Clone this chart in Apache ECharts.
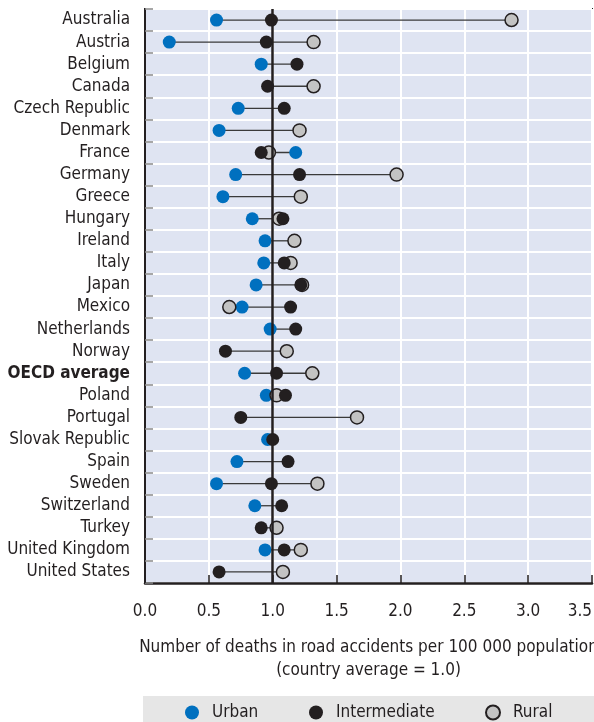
<!DOCTYPE html>
<html>
<head>
<meta charset="utf-8">
<script src="https://cdn.jsdelivr.net/npm/echarts@6/dist/echarts.min.js"></script>
<style>
html,body{margin:0;padding:0;background:#fff;}
#c{width:594px;height:722px;}
</style>
</head>
<body>
<div id="c"></div>
<script>
const countries = ["Australia","Austria","Belgium","Canada","Czech Republic","Denmark","France","Germany","Greece","Hungary","Ireland","Italy","Japan","Mexico","Netherlands","Norway","OECD average","Poland","Portugal","Slovak Republic","Spain","Sweden","Switzerland","Turkey","United Kingdom","United States"];
const urban =        [0.56,0.19,0.91,null,0.73,0.58,1.18,0.71,0.61,0.84,0.94,0.93,0.87,0.76,0.98,null,0.78,0.95,null,0.96,0.72,0.56,0.86,null,0.94,null];
const intermediate = [0.99,0.95,1.19,0.96,1.09,null,0.91,1.21,null,1.08,null,1.09,1.22,1.14,1.18,0.63,1.03,1.10,0.75,1.00,1.12,0.99,1.07,0.91,1.09,0.58];
const rural =        [2.87,1.32,null,1.32,null,1.21,0.97,1.97,1.22,1.05,1.17,1.14,1.23,0.66,null,1.11,1.31,1.03,1.66,null,null,1.35,null,1.03,1.22,1.08];
const xTicks = [0,0.5,1,1.5,2,2.5,3,3.5];

const FONT = "'DejaVu Sans Condensed','Liberation Sans Narrow',sans-serif";
const INK = '#231f20';
const BLUE = '#0070bf';
const GREY = '#c3c3c3';

const ranges = countries.map((c,i)=>{
  const vals=[urban[i],intermediate[i],rural[i]].filter(v=>v!=null);
  return [i, Math.min(...vals), Math.max(...vals)];
});

const chart = echarts.init(document.getElementById('c'), null, {renderer:'canvas'});
const legendBase = {top:704, itemWidth:14, itemHeight:14, icon:'circle', selectedMode:false, padding:0,
  textStyle:{fontFamily:FONT, fontSize:17, color:INK, padding:[0,0,0,8]}};
chart.setOption({
  animation:false,
  textStyle:{fontFamily:FONT},
  graphic:[{type:'rect', shape:{x:143,y:696,width:451,height:26}, style:{fill:'#e6e6e6'}, z:-1}],
  legend:[
    Object.assign({data:['Urban'], left:185}, legendBase),
    Object.assign({data:['Intermediate'], left:309}, legendBase),
    Object.assign({data:['Rural'], left:485}, legendBase)
  ],
  grid:{left:145, right:2, top:9, bottom:139, outerBoundsMode:'none', containLabel:false,
    show:true, backgroundColor:'#dfe4f2', borderColor:INK, borderWidth:2},
  xAxis:{type:'value', min:0, max:3.5, interval:0.5,
    axisLine:{show:true, lineStyle:{color:INK, width:2.5}},
    axisTick:{show:true, inside:true, length:8, lineStyle:{color:INK, width:1.5}},
    splitLine:{show:true, lineStyle:{color:'#ffffff', width:2}},
    axisLabel:{fontFamily:FONT, fontSize:17, color:INK, margin:20, alignMaxLabel:'right', formatter:v=>v.toFixed(1)},
    name:'Number of deaths in road accidents per 100 000 population\n(country average = 1.0)',
    nameLocation:'middle', nameGap:53,
    nameTextStyle:{fontFamily:FONT, fontSize:17, color:INK, lineHeight:23, align:'center'}
  },
  yAxis:{type:'category', data:countries, inverse:true,
    axisLine:{show:true, lineStyle:{color:INK, width:2}},
    axisTick:{show:true, inside:true, length:8, lineStyle:{color:'#8a8a8a', width:1.5}},
    splitLine:{show:true, lineStyle:{color:'#ffffff', width:2}},
    axisLabel:{fontFamily:FONT, fontSize:17, color:INK, margin:15, interval:0,
      formatter:v=> v==='OECD average' ? '{b|'+v+'}' : v,
      rich:{b:{fontFamily:FONT, fontSize:17, fontWeight:'bold', color:INK}}}
  },
  series:[
    {type:'custom', name:'range', data:ranges, encode:{x:[1,2], y:0}, z:2, silent:true,
      renderItem:(params, api)=>{
        const y=api.value(0);
        const a=api.coord([api.value(1), y]);
        const b=api.coord([api.value(2), y]);
        return {type:'line', shape:{x1:a[0],y1:a[1],x2:b[0],y2:b[1]}, style:{stroke:'#3a3a3a', lineWidth:1.3}};
      },
      markLine:{silent:true, symbol:'none', label:{show:false},
        lineStyle:{color:INK, width:2.5, type:'solid'}, data:[{xAxis:1}]}
    },
    {type:'scatter', name:'Urban', z:3, symbolSize:13,
      itemStyle:{color:BLUE, opacity:1},
      data:urban.map((v,i)=>v==null?null:[v,i])},
    {type:'scatter', name:'Rural', z:3, symbolSize:13,
      itemStyle:{color:GREY, borderColor:INK, borderWidth:1.5, opacity:1},
      data:rural.map((v,i)=>v==null?null:[v,i])},
    {type:'scatter', name:'Intermediate', z:3, symbolSize:13,
      itemStyle:{color:INK, opacity:1},
      data:intermediate.map((v,i)=>v==null?null:[v,i])}
  ]
});
</script>
</body>
</html>
